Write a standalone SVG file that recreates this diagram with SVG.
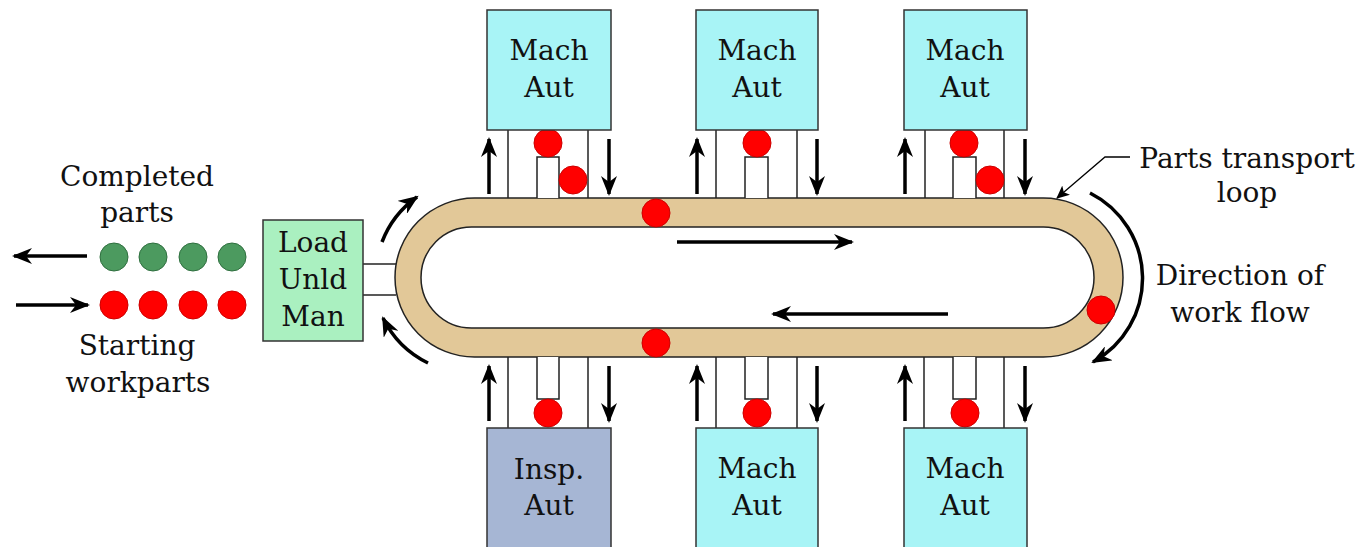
<svg xmlns="http://www.w3.org/2000/svg" width="1359" height="547" viewBox="0 0 1359 547">
<style>
text{font-family:"DejaVu Serif","Liberation Serif",serif;font-size:28px;fill:#111;text-anchor:middle}
.mach{fill:#a8f4f6;stroke:#333;stroke-width:1.5}
.insp{fill:#a6b6d4;stroke:#333;stroke-width:1.5}
.load{fill:#aaf0c0;stroke:#333;stroke-width:1.5}
.ln{stroke:#222;stroke-width:1.5;fill:none}
.tube{fill:#fff;stroke:#222;stroke-width:1.5}
.red{fill:#f00;stroke:#c00;stroke-width:1}
.grn{fill:#4c9a5f;stroke:#2f6f3f;stroke-width:1}
.arr{stroke:#000;stroke-width:3.5;fill:none;marker-end:url(#ah)}
</style>
<defs>
<marker id="ah" markerUnits="userSpaceOnUse" markerWidth="22" markerHeight="16" refX="18" refY="8" orient="auto">
<path d="M0,0 L20,8 L0,16 L6,8 z" fill="#000"/>
</marker>
<marker id="ahs" markerUnits="userSpaceOnUse" markerWidth="14" markerHeight="12" refX="12" refY="6" orient="auto">
<path d="M0,0 L13,6 L0,12 L3,6 z" fill="#000"/>
</marker>
</defs>
<rect width="1359" height="547" fill="#fff"/>

<g id="loop">
<rect x="395" y="198" width="728" height="159" rx="79.5" ry="79.5" fill="#e2c898" stroke="#222" stroke-width="1.5"/>
<rect x="421" y="227" width="673" height="101" rx="50.5" ry="50.5" fill="#fff" stroke="#222" stroke-width="1.5"/>
<circle class="red" cx="656" cy="213" r="14"/>
<circle class="red" cx="656" cy="343" r="14"/>
<circle class="red" cx="1101" cy="310" r="14"/>
</g>

<g id="connectors">
<line class="ln" x1="363" y1="264" x2="396" y2="264"/>
<line class="ln" x1="363" y1="295" x2="396" y2="295"/>
<line class="ln" x1="508" y1="130" x2="508" y2="198"/>
<line class="ln" x1="588" y1="130" x2="588" y2="198"/>
<path class="tube" d="M537,198 V157 H559 V198"/>
<line class="ln" x1="716" y1="130" x2="716" y2="198"/>
<line class="ln" x1="797" y1="130" x2="797" y2="198"/>
<path class="tube" d="M745,198 V157 H768 V198"/>
<line class="ln" x1="925" y1="130" x2="925" y2="198"/>
<line class="ln" x1="1004" y1="130" x2="1004" y2="198"/>
<path class="tube" d="M953,198 V157 H976 V198"/>
<line class="ln" x1="508" y1="357" x2="508" y2="428"/>
<line class="ln" x1="588" y1="357" x2="588" y2="428"/>
<path class="tube" d="M537,357 V399 H559 V357"/>
<line class="ln" x1="716" y1="357" x2="716" y2="428"/>
<line class="ln" x1="797" y1="357" x2="797" y2="428"/>
<path class="tube" d="M745,357 V399 H768 V357"/>
<line class="ln" x1="924" y1="357" x2="924" y2="428"/>
<line class="ln" x1="1004" y1="357" x2="1004" y2="428"/>
<path class="tube" d="M953,357 V399 H976 V357"/>

<line class="arr" x1="489" y1="194" x2="489" y2="139"/>
<line class="arr" x1="609" y1="139" x2="609" y2="194"/>
<line class="arr" x1="697" y1="194" x2="697" y2="139"/>
<line class="arr" x1="817" y1="139" x2="817" y2="194"/>
<line class="arr" x1="905" y1="194" x2="905" y2="139"/>
<line class="arr" x1="1025" y1="139" x2="1025" y2="194"/>
<line class="arr" x1="489" y1="421" x2="489" y2="366"/>
<line class="arr" x1="609" y1="366" x2="609" y2="421"/>
<line class="arr" x1="697" y1="421" x2="697" y2="366"/>
<line class="arr" x1="817" y1="366" x2="817" y2="421"/>
<line class="arr" x1="905" y1="421" x2="905" y2="366"/>
<line class="arr" x1="1025" y1="366" x2="1025" y2="421"/>

<line class="arr" x1="677" y1="242" x2="852" y2="242"/>
<line class="arr" x1="948" y1="314" x2="773" y2="314"/>

<path class="arr" d="M382,242 A98,98 0 0,1 417,197"/>
<path class="arr" d="M428,363 A98,98 0 0,1 383,318"/>
<path class="arr" d="M1090,193 A95.5,95.5 0 0,1 1093,362"/>
<polyline points="1130,157 1105,157 1057,198" fill="none" stroke="#000" stroke-width="1.3" marker-end="url(#ahs)"/>

<line class="arr" x1="87" y1="256" x2="14" y2="256"/>
<line class="arr" x1="16" y1="305" x2="88" y2="305"/>
</g>

<g id="parts-circles">
<circle class="red" cx="548" cy="143" r="14"/>
<circle class="red" cx="573" cy="180" r="14"/>
<circle class="red" cx="757" cy="143" r="14"/>
<circle class="red" cx="964" cy="143" r="14"/>
<circle class="red" cx="990" cy="180" r="14"/>
<circle class="red" cx="548" cy="413" r="14"/>
<circle class="red" cx="757" cy="413" r="14"/>
<circle class="red" cx="965" cy="413" r="14"/>
<circle class="grn" cx="114" cy="257" r="14"/>
<circle class="grn" cx="153" cy="257" r="14"/>
<circle class="grn" cx="193" cy="257" r="14"/>
<circle class="grn" cx="232" cy="257" r="14"/>
<circle class="red" cx="114" cy="305" r="14"/>
<circle class="red" cx="153" cy="305" r="14"/>
<circle class="red" cx="193" cy="305" r="14"/>
<circle class="red" cx="232" cy="305" r="14"/>
</g>

<g id="mach-top-1">
<rect class="mach" x="487" y="10" width="124" height="120"/>
<text x="549" y="60">Mach</text><text x="549" y="97">Aut</text>
</g>
<g id="mach-top-2">
<rect class="mach" x="696" y="10" width="122" height="120"/>
<text x="757" y="60">Mach</text><text x="757" y="97">Aut</text>
</g>
<g id="mach-top-3">
<rect class="mach" x="904" y="10" width="123" height="120"/>
<text x="965" y="60">Mach</text><text x="965" y="97">Aut</text>
</g>
<g id="insp-bottom-1">
<rect class="insp" x="487" y="428" width="124" height="130"/>
<text x="549" y="479">Insp.</text><text x="549" y="515">Aut</text>
</g>
<g id="mach-bottom-2">
<rect class="mach" x="696" y="428" width="122" height="130"/>
<text x="757" y="478">Mach</text><text x="757" y="515">Aut</text>
</g>
<g id="mach-bottom-3">
<rect class="mach" x="904" y="428" width="123" height="130"/>
<text x="965" y="478">Mach</text><text x="965" y="515">Aut</text>
</g>
<g id="load-station">
<rect class="load" x="263" y="220" width="100" height="121"/>
<text x="313" y="252">Load</text><text x="313" y="289">Unld</text><text x="313" y="326">Man</text>
</g>

<g id="labels">
<text x="137" y="186">Completed</text>
<text x="137" y="222">parts</text>
<text x="137" y="355">Starting</text>
<text x="138" y="392">workparts</text>
<text x="1247" y="168">Parts transport</text>
<text x="1247" y="202">loop</text>
<text x="1240" y="285">Direction of</text>
<text x="1240" y="322">work flow</text>
</g>
</svg>
